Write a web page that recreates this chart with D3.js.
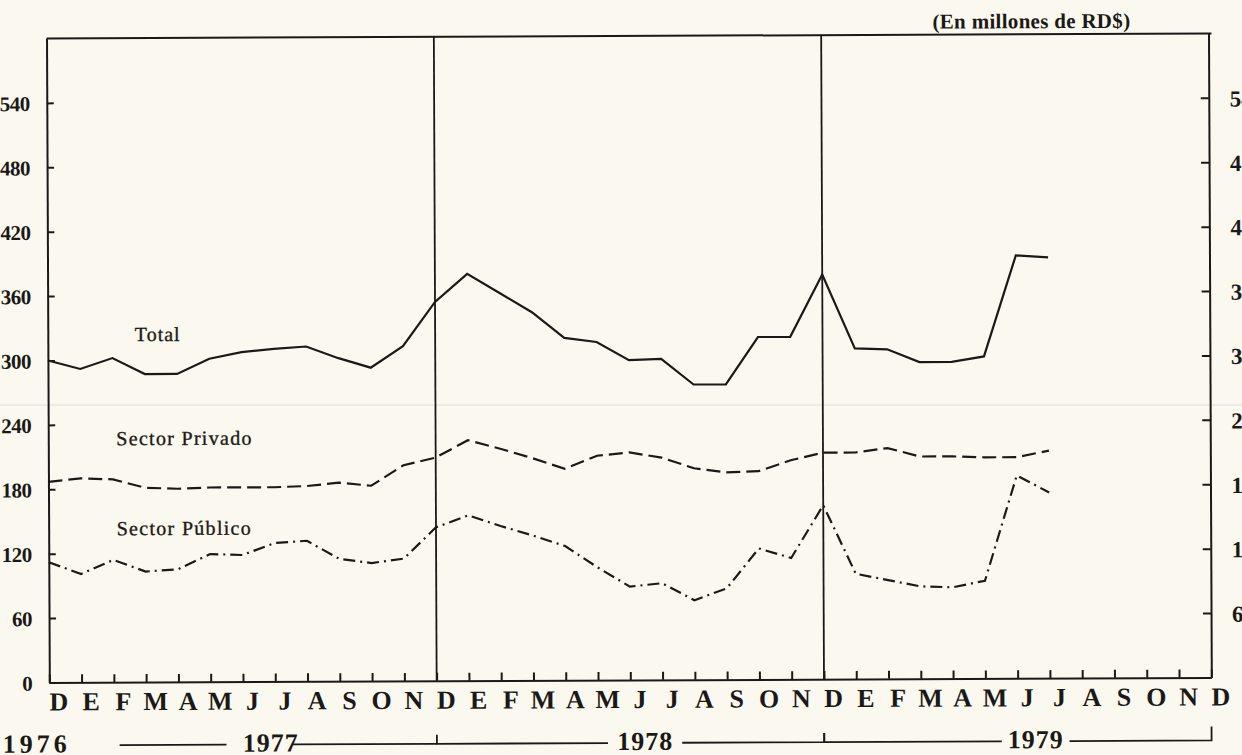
<!DOCTYPE html>
<html>
<head>
<meta charset="utf-8">
<script src="https://cdn.jsdelivr.net/npm/d3@7"></script>
<style>
  body { margin: 0; background: #fbf9ef; }
  svg { display: block; }
  .axis path, .axis line { stroke: #1b1917; stroke-width: 2; }
  .axis text { font-family: "Liberation Serif", serif; font-weight: bold; fill: #1b1917; }
  .lbl { font-family: "Liberation Serif", serif; fill: #1b1917; }
</style>
</head>
<body>
<svg id="chart" width="1242" height="755"></svg>
<script>
// meses desde Dic 1976 hasta Dic 1979
const months = ["D","E","F","M","A","M","J","J","A","S","O","N",
                "D","E","F","M","A","M","J","J","A","S","O","N",
                "D","E","F","M","A","M","J","J","A","S","O","N","D"];
const years = ["1976", "1977", "1978", "1979"];
const yTicks = [0, 60, 120, 180, 240, 300, 360, 420, 480, 540];

// valores en millones de RD$, Dic 1976 - Jul 1979
const total = [300, 292, 302, 287, 287, 301, 307, 310, 312, 301, 292, 312,
               353, 379, 361, 343, 319, 315, 298, 299, 275, 275, 319, 319,
               377, 308, 307, 295, 295, 300, 394, 392];
const privado = [187, 190, 189, 181, 180, 181, 181, 181, 182, 185, 182, 201,
                 208, 224, 216, 207, 197, 209, 212, 207, 197, 193, 194, 204,
                 211, 211, 215, 207, 207, 206, 206, 212];
const publico = [112, 101, 114, 103, 105, 119, 118, 129, 131, 114, 110, 114,
                 143, 154, 144, 135, 125, 105, 87, 90, 74, 85, 122, 113,
                 162, 98, 92, 86, 85, 91, 189, 173];

const width = 1242, height = 755;
const mLeft = 48, mRight = 1210, mTop = 36, mBottom = 680;
const ink = "#1b1917";

const svg = d3.select("#chart");

// pliegue tenue de la hoja escaneada
svg.append("line")
    .attr("x1", 0).attr("x2", width)
    .attr("y1", 405).attr("y2", 405)
    .attr("stroke", "#ebe6d8").attr("stroke-width", 1.5);

// el escaneo esta un poco inclinado
const g = svg.append("g")
    .attr("transform", "rotate(-0.25," + (width / 2) + "," + (height / 2) + ")");

const x = d3.scaleLinear().domain([0, months.length - 1]).range([mLeft, mRight]);
const y = d3.scaleLinear().domain([0, 600]).range([mBottom, mTop]);

// ejes
g.append("g")
    .attr("class", "axis")
    .attr("transform", "translate(" + mLeft + ",0)")
    .call(d3.axisLeft(y).tickValues(yTicks).tickSize(-7).tickSizeOuter(0).tickPadding(17))
    .selectAll("text")
    .style("font-size", "21px").style("letter-spacing", "-0.5px")
    .attr("dy", "0.36em");

g.append("g")
    .attr("class", "axis")
    .attr("transform", "translate(" + mRight + ",0)")
    .call(d3.axisRight(y).tickValues(yTicks.filter(d => d > 0)).tickSize(-8).tickSizeOuter(0).tickPadding(21))
    .selectAll("text").style("font-size", "23px").attr("dy", "0.36em");

const xAxis = g.append("g")
    .attr("class", "axis")
    .attr("transform", "translate(0," + mBottom + ")")
    .call(d3.axisBottom(x).tickValues(d3.range(months.length))
        .tickFormat(i => months[i]).tickSize(-8).tickSizeOuter(0).tickPadding(0));
xAxis.selectAll("text")
    .style("font-size", "26px")
    .attr("dx", 9)
    .attr("y", 28)
    .attr("dy", 0);

// marco superior y separadores de año
g.append("line")
    .attr("x1", mLeft).attr("x2", mRight + 3)
    .attr("y1", mTop).attr("y2", mTop)
    .attr("stroke", ink).attr("stroke-width", 2);

g.selectAll(".sep")
    .data([12, 24])
    .enter().append("line")
    .attr("class", "sep")
    .attr("x1", d => x(d)).attr("x2", d => x(d))
    .attr("y1", mTop).attr("y2", mBottom)
    .attr("stroke", ink).attr("stroke-width", 1.8);

// series
const line = d3.line()
    .x((d, i) => x(i))
    .y(d => y(d));

const series = [
    {values: total, dash: null, width: 2.2},
    {values: privado, dash: "14,6", width: 2.2},
    {values: publico, dash: "12,5,2,5", width: 2.2}
];

g.selectAll(".serie")
    .data(series)
    .enter().append("path")
    .attr("class", "serie")
    .attr("d", d => line(d.values))
    .attr("fill", "none")
    .attr("stroke", ink)
    .attr("stroke-width", d => d.width)
    .attr("stroke-dasharray", d => d.dash)
    .attr("stroke-linejoin", "miter");

// etiquetas de las series
const labels = g.append("g")
    .attr("class", "lbl")
    .style("font-size", "20px")
    .attr("stroke", ink).attr("stroke-width", 0.35);
labels.append("text")
    .attr("x", 135).attr("y", 339)
    .style("letter-spacing", "1px")
    .text("Total");
labels.append("text")
    .attr("x", 116).attr("y", 443)
    .style("letter-spacing", "1.3px")
    .text("Sector Privado");
labels.append("text")
    .attr("x", 116).attr("y", 533)
    .style("letter-spacing", "1.3px")
    .text("Sector Público");

g.append("text").attr("class", "lbl")
    .attr("x", 1033).attr("y", 30)
    .attr("text-anchor", "middle")
    .style("font-size", "21px").style("font-weight", "bold")
    .style("letter-spacing", "0.3px")
    .text("(En millones de RD$)");

// fila de años
const yearY = 743;
const yearG = g.append("g")
    .attr("stroke", ink).attr("stroke-width", 1.8).attr("fill", "none");

yearG.append("line").attr("x1", x(2.17)).attr("x2", x(5.48)).attr("y1", yearY).attr("y2", yearY);
yearG.append("line").attr("x1", x(7.5)).attr("x2", x(12)).attr("y1", yearY).attr("y2", yearY);
yearG.append("path").attr("d", "M" + x(12) + "," + (yearY - 9) + "V" + yearY + "H" + x(17.3));
yearG.append("path").attr("d", "M" + x(19.6) + "," + yearY + "H" + x(24) + "V" + (yearY - 9));
yearG.append("path").attr("d", "M" + x(24) + "," + (yearY - 9) + "V" + yearY + "H" + x(29.5));
yearG.append("path").attr("d", "M" + x(31.6) + "," + yearY + "H" + x(36) + "V" + (yearY - 14));

const yearPos = [{t: years[0], x: 1, ls: 4}, {t: years[1], x: x(6.85), ls: 1},
                 {t: years[2], x: x(18.45), ls: 1}, {t: years[3], x: x(30.55), ls: 1}];
g.selectAll(".yr")
    .data(yearPos)
    .enter().append("text")
    .attr("class", "lbl yr")
    .attr("x", d => d.x)
    .attr("y", yearY + 7)
    .attr("text-anchor", (d, i) => i === 0 ? "start" : "middle")
    .style("font-size", "26px").style("font-weight", "bold")
    .style("letter-spacing", d => d.ls + "px")
    .text(d => d.t);
</script>
</body>
</html>
